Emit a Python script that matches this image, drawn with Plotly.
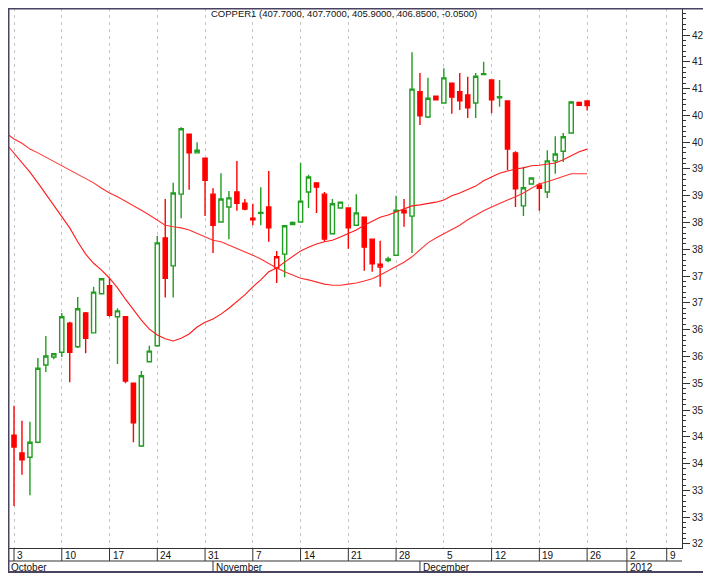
import plotly.graph_objects as go

# ---------------- data ----------------
opens = [345.3, 342.0, 341.2, 344.0, 358.4, 359.9, 360.8, 366.2, 361.8, 368.1,
         364.4, 371.7, 373.2, 367.4, 367.4, 355.0, 343.3, 359.0, 362.0, 382.1,
         376.9, 390.3, 401.5, 398.0, 397.0, 390.3, 385.1, 387.9, 390.7, 388.6,
         385.8, 386.7, 387.9, 376.5, 379.1, 384.6, 385.1, 390.7, 392.4, 390.3,
         382.9, 387.7, 387.7, 384.5, 386.0, 381.9, 376.7, 377.9, 378.9, 387.3,
         386.2, 409.4, 404.7, 408.6, 407.3, 411.0, 409.4, 408.8, 407.3, 412.6,
         411.6, 408.3, 407.7, 398.0, 388.1, 392.2, 392.0, 390.7, 396.5, 398.3,
         401.7, 407.4, 407.7]
highs = [350.8, 348.0, 347.8, 359.7, 363.8, 360.6, 368.1, 366.5, 371.1, 368.3,
         373.0, 374.6, 374.6, 369.0, 367.5, 355.1, 357.3, 362.0, 382.5, 389.4,
         392.4, 402.8, 401.6, 400.0, 397.1, 391.4, 394.2, 390.9, 396.5, 389.4,
         388.5, 391.6, 394.6, 379.7, 384.4, 385.2, 396.1, 393.9, 392.5, 390.7,
         389.4, 388.8, 387.8, 390.3, 386.1, 382.0, 381.6, 378.6, 390.0, 389.4,
         416.8, 412.9, 412.0, 408.7, 413.8, 411.1, 412.9, 412.2, 412.9, 415.0,
         411.7, 411.6, 407.8, 398.3, 395.4, 393.3, 392.4, 398.5, 401.1, 401.7,
         407.7, 407.6, 407.7]
lows = [332.1, 337.9, 334.1, 343.8, 357.1, 359.5, 359.9, 355.2, 361.6, 360.6,
        364.3, 371.6, 367.4, 358.6, 355.0, 344.0, 343.1, 358.9, 361.8, 371.0,
        371.0, 385.8, 391.1, 397.9, 386.2, 379.3, 385.0, 381.9, 387.2, 387.3,
        384.5, 384.5, 381.4, 373.7, 374.8, 384.5, 385.0, 387.7, 386.8, 381.4,
        382.8, 387.6, 380.1, 384.4, 376.0, 375.8, 373.0, 377.6, 378.8, 384.2,
        379.3, 403.2, 404.5, 407.8, 407.2, 405.3, 406.0, 404.5, 404.5, 412.5,
        405.4, 406.6, 394.8, 387.9, 386.2, 392.1, 387.2, 389.6, 394.1, 396.3,
        401.6, 406.9, 405.9]
closes = [343.1, 340.7, 344.0, 357.8, 360.1, 360.5, 367.4, 360.8, 368.9, 363.4,
          372.0, 374.5, 367.7, 368.5, 355.4, 347.6, 356.4, 361.0, 381.2, 374.6,
          390.5, 402.5, 398.0, 398.5, 392.9, 384.5, 389.4, 389.6, 388.6, 387.5,
          385.5, 386.9, 384.0, 378.6, 384.4, 385.0, 389.0, 393.5, 391.6, 381.9,
          388.5, 388.8, 384.0, 386.8, 380.4, 377.3, 377.2, 378.2, 387.3, 386.8,
          409.9, 404.9, 408.2, 407.9, 412.0, 408.4, 407.7, 406.4, 412.3, 412.8,
          407.9, 408.5, 398.7, 391.3, 391.5, 393.3, 391.4, 396.5, 397.8, 401.0,
          407.5, 406.9, 406.85]

# moving averages, one value per bar starting one bar before the first visible bar
ma_fast = [399.7, 398.0, 396.1, 394.4, 392.4, 390.3, 388.1, 386.0, 384.0, 381.4,
           379.1, 377.4, 376.1, 374.6, 372.8, 370.7, 368.7, 366.8, 365.1, 364.0,
           363.3, 362.9, 363.4, 364.2, 365.5, 366.4, 367.0, 367.9, 369.0, 370.2,
           371.5, 373.0, 374.3, 375.8, 376.5, 377.6, 378.6, 379.7, 380.4, 381.0,
           381.4, 381.7, 382.3, 383.0, 383.6, 384.5, 385.3, 386.0, 386.4, 387.0,
           387.5, 388.1, 388.3, 388.5, 388.8, 389.2, 390.0, 390.5, 391.1, 391.8,
           392.8, 393.5, 394.2, 394.6, 395.0, 395.2, 395.6, 395.7, 395.9, 396.1,
           396.7, 397.4, 398.2, 398.7]
ma_slow = [401.7, 400.6, 399.8, 398.7, 398.0, 397.2, 396.5, 395.6, 394.8, 394.1,
           393.3, 392.4, 391.4, 390.5, 389.8, 389.0, 388.1, 387.3, 386.4, 385.5,
           384.5, 384.2, 384.0, 383.6, 383.0, 382.3, 381.7, 381.4, 380.8, 380.2,
           379.5, 378.9, 378.2, 377.3, 376.5, 375.8, 375.2, 374.6, 374.3, 373.9,
           373.5, 373.3, 373.3, 373.5, 373.7, 374.1, 374.5, 375.2, 376.0, 376.7,
           377.6, 378.6, 379.9, 381.2, 382.1, 382.9, 383.6, 384.5, 385.5, 386.4,
           387.2, 387.9, 388.6, 389.2, 389.8, 390.5, 391.4, 392.2, 392.6, 393.1,
           393.7, 394.1, 394.1, 394.1]

week_idx = [0, 6, 12, 18, 24, 30, 36, 42, 48, 54, 60, 66, 72, 77, 82]
week_labels = ["3", "10", "17", "24", "31", "7", "14", "21", "28", "5", "12", "19", "26", "2", "9"]
month_idx = [25, 51, 77]
month_labels = ["November", "December", "2012"]
first_month_label = "October"
y_ticks = [325, 330, 335, 340, 345, 350, 355, 360, 365, 370,
           375, 380, 385, 390, 395, 400, 405, 410, 415, 420]
y_minor = list(range(325, 426))
title_text = "COPPER1 (407.7000, 407.7000, 405.9000, 406.8500, -0.0500)"

# ---------------- styling ----------------
GREEN = "#1f9e1f"
RED = "#ff0000"
FRAME = "#4a4360"
FONT = "Arial, Liberation Sans, sans-serif"

bars = list(range(len(closes)))
up = [(closes[i] >= closes[i - 1]) if i > 0 else (closes[0] >= opens[0]) for i in bars]


def subset(arr, flag):
    return [arr[i] for i in bars if up[i] == flag]


fig = go.Figure()
for flag, col in [(True, GREEN), (False, RED)]:
    fig.add_trace(go.Candlestick(
        x=[i for i in bars if up[i] == flag],
        open=subset(opens, flag), high=subset(highs, flag),
        low=subset(lows, flag), close=subset(closes, flag),
        increasing=dict(line=dict(color=col, width=1.4), fillcolor="white"),
        decreasing=dict(line=dict(color=col, width=1.4), fillcolor=col),
        whiskerwidth=0, showlegend=False, hoverinfo="skip",
    ))

ma_x = list(range(-1, len(ma_fast) - 1))
fig.add_trace(go.Scatter(x=ma_x, y=ma_fast, mode="lines",
                         line=dict(color="#ff1a1a", width=1.1), showlegend=False, hoverinfo="skip"))
fig.add_trace(go.Scatter(x=ma_x, y=ma_slow, mode="lines",
                         line=dict(color="#ff3030", width=1.1), showlegend=False, hoverinfo="skip"))

# The page body adds an 8px offset, so the figure is laid out 8px smaller.
OFF = 8
W, H = 711 - OFF, 573 - OFF
ml, mr, mt, mb = 1, 29, 0, 25
pw = W - ml - mr
ph = H - mt - mb


def py(ref_px):  # reference screen row -> paper y
    return (H - mb - (ref_px - OFF)) / ph


def px(ref_px):  # reference screen column -> paper x
    return ((ref_px - OFF) - ml) / pw


row1_mid = py(555)
row_split = py(561)
row2_mid = py(567)
bottom = py(572)

shapes = []
for w in week_idx:
    if w == 54:
        continue
    shapes.append(dict(type="line", xref="x", yref="paper", x0=w, x1=w, y0=0, y1=row_split,
                       line=dict(color="#333333", width=1)))
for m in month_idx:
    shapes.append(dict(type="line", xref="x", yref="paper", x0=m, x1=m, y0=row_split, y1=bottom,
                       line=dict(color="#333333", width=1)))
shapes.append(dict(type="line", xref="paper", yref="paper", x0=0, x1=1, y0=row_split, y1=row_split,
                   line=dict(color="#333333", width=1)))
# window frame (top, bottom and left)
shapes.append(dict(type="line", xref="paper", yref="paper", x0=-0.02, x1=1.06, y0=py(8.5), y1=py(8.5),
                   line=dict(color=FRAME, width=2)))
shapes.append(dict(type="line", xref="paper", yref="paper", x0=-0.02, x1=1.06, y0=py(572), y1=py(572),
                   line=dict(color=FRAME, width=2)))
shapes.append(dict(type="line", xref="paper", yref="paper", x0=px(8.5), x1=px(8.5), y0=py(573), y1=py(0),
                   line=dict(color=FRAME, width=2)))

annotations = [dict(text=title_text, xref="paper", yref="paper", x=px(209), y=py(14),
                    xanchor="left", yanchor="middle", showarrow=False,
                    font=dict(family=FONT, size=9.5, color="#111111"))]
for w, lab in zip(week_idx, week_labels):
    annotations.append(dict(text=lab, xref="x", yref="paper", x=w, y=row1_mid, xanchor="left",
                            yanchor="middle", xshift=1, showarrow=False,
                            font=dict(family=FONT, size=10, color="#111111")))
annotations.append(dict(text=first_month_label, xref="paper", yref="paper", x=px(9), y=row2_mid,
                        xanchor="left", yanchor="middle", showarrow=False,
                        font=dict(family=FONT, size=10, color="#111111")))
for m, lab in zip(month_idx, month_labels):
    annotations.append(dict(text=lab, xref="x", yref="paper", x=m, y=row2_mid, xanchor="left",
                            yanchor="middle", xshift=1, showarrow=False,
                            font=dict(family=FONT, size=10, color="#111111")))

fig.update_layout(
    width=W, height=H,
    margin=dict(l=ml, r=mr, t=mt, b=mb, autoexpand=False),
    paper_bgcolor="white", plot_bgcolor="white",
    showlegend=False,
    boxgap=0.25,
    shapes=shapes, annotations=annotations,
    xaxis=dict(range=[-0.63, 83.92], tickmode="array", tickvals=week_idx, showticklabels=False,
               ticks="", showgrid=True, gridcolor="#c4c4c4", gridwidth=1, griddash="3px,4px",
               zeroline=False, showline=True, linecolor="#333333", linewidth=1, automargin=False,
               rangeslider=dict(visible=False), fixedrange=True),
    yaxis=dict(range=[324.25, 425.04], side="right", tickmode="array", tickvals=y_ticks,
               ticktext=["%d" % v for v in y_ticks], ticks="outside", ticklen=7, tickcolor="#333333",
               tickwidth=1, ticklabelstandoff=0, automargin=False,
               minor=dict(tickmode="array", tickvals=y_minor, ticks="outside", ticklen=3,
                          tickcolor="#333333", tickwidth=1, showgrid=False),
               showgrid=False, zeroline=False, showline=True, linecolor="#333333", linewidth=1,
               tickfont=dict(family=FONT, size=10, color="#222222"), fixedrange=True),
)

fig.write_html("out.html")
